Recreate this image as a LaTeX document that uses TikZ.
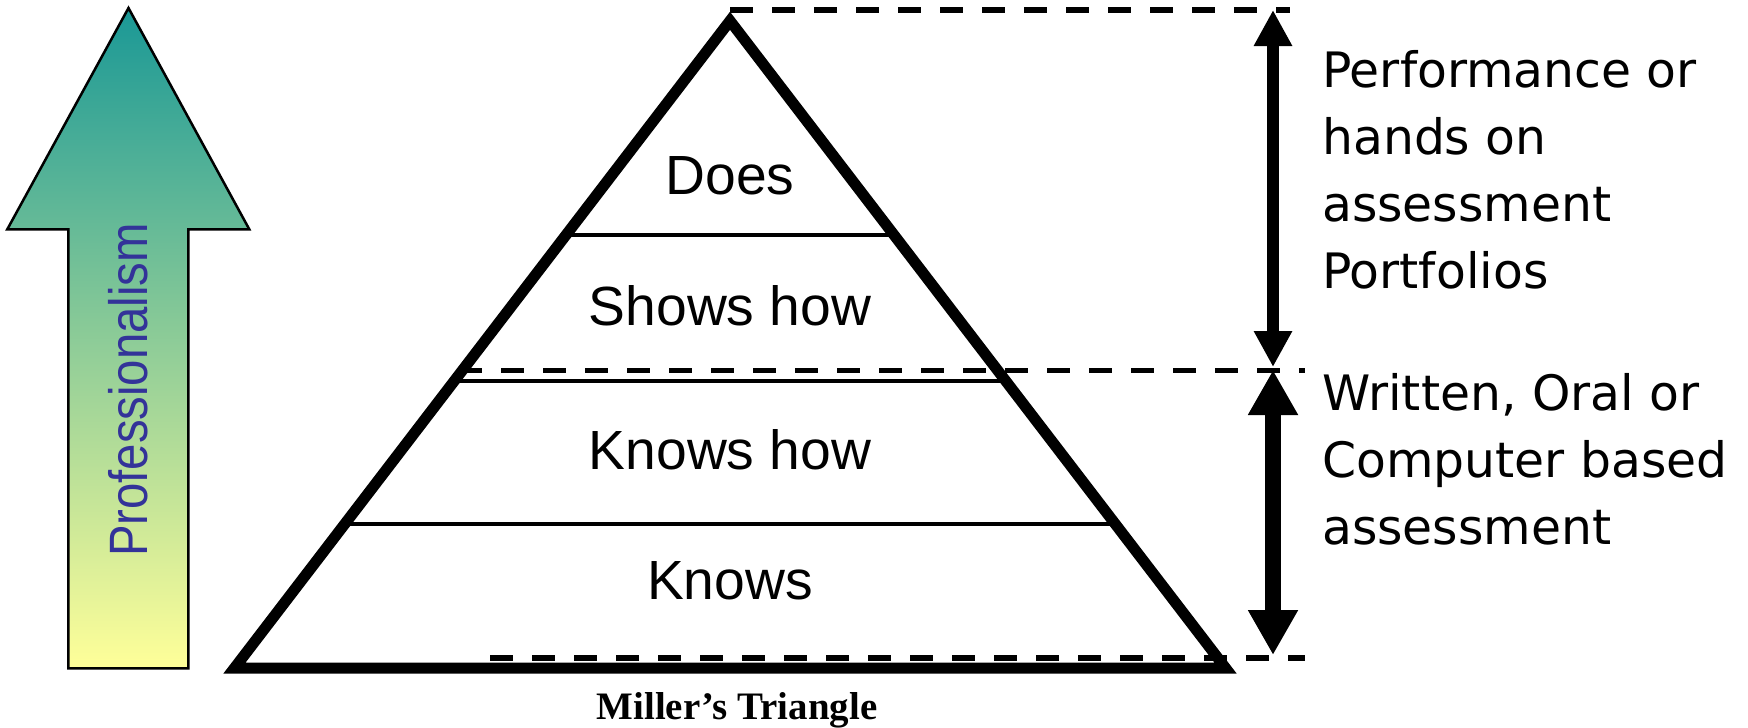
\documentclass[tikz,border=0pt]{standalone}
\usepackage{fontspec}
\setmainfont{Liberation Sans}
\newfontfamily\sideFont{DejaVu Sans}
\newfontfamily\capFont{Liberation Serif}
\usetikzlibrary{arrows.meta,calc}
\definecolor{proTeal}{RGB}{26,152,150}
\definecolor{proYellow}{RGB}{255,255,153}
\definecolor{proBlue}{RGB}{51,51,153}
\begin{document}
\begin{tikzpicture}[x=1pt,y=-1pt,
    triEdge/.style={line width=11pt,line join=miter},
    bandLine/.style={line width=4pt},
    levelDash/.style={line width=5.5pt,dash pattern=on 23pt off 19pt},
    spanUp/.style={{Triangle[width=36pt,length=36pt]}-{Triangle[width=36pt,length=36pt]},line width=12.5pt},
    spanLow/.style={{Triangle[width=47pt,length=45pt]}-{Triangle[width=47pt,length=45pt]},line width=16pt},
    levelLbl/.style={font=\fontsize{55.2}{60}\selectfont,inner sep=0pt,anchor=base},
    sideLbl/.style={font=\sideFont\fontsize{48.8}{66.8}\selectfont,align=left,inner sep=0pt,anchor=base west},
]
\useasboundingbox (0,0) rectangle (1748,728);
% Professionalism arrow
\draw[line width=2.5pt,line join=miter,top color=proTeal,bottom color=proYellow]
  (128.5,8) -- (249.3,229.3) -- (188.3,229.3) -- (188.3,668.3) -- (68.3,668.3) -- (68.3,229.3) -- (7.3,229.3) -- cycle;
\node[font=\fontsize{54}{60}\selectfont,text=proBlue,rotate=90,anchor=base,inner sep=0pt] (proLbl) at (147,390) {\scalebox{0.876}[1]{Professionalism}};
% Triangle and its levels
\coordinate (apex) at (730,20.8);
\coordinate (bl) at (234.5,668);
\coordinate (br) at (1225.5,668);
\draw[bandLine] ($(apex)!0.331!(bl)$) -- ($(apex)!0.331!(br)$);
\draw[bandLine] ($(apex)!0.5566!(bl)$) -- ($(apex)!0.5566!(br)$);
\draw[bandLine] ($(apex)!0.778!(bl)$) -- ($(apex)!0.778!(br)$);
\draw[triEdge] (apex) -- (bl) -- (br) -- cycle;
\node[levelLbl] (does) at (730,194) {Does};
\node[levelLbl] (showsHow) at (730,325.6) {Shows how};
\node[levelLbl] (knowsHow) at (730,469.5) {Knows how};
\node[levelLbl] (knows) at (730,599) {Knows};
% Dashed level marks
\coordinate (topL) at (730,10);
\coordinate (topE) at (1290,10);
\coordinate (midL) at (459,370.5);
\coordinate (midE) at (1305,370.5);
\coordinate (botL) at (490,658);
\coordinate (botE) at (1305,658);
\draw[levelDash] (topL) -- (topE);
\draw[levelDash] (midL) -- (midE);
\draw[levelDash] (botL) -- (botE);
% Span arrows
\coordinate (upA) at (1273,10);
\coordinate (upB) at (1273,367);
\coordinate (lowA) at (1273,370);
\coordinate (lowB) at (1273,655);
\draw[spanUp] (upA) -- (upB);
\draw[spanLow] (lowA) -- (lowB);
% Assessment texts
\node[sideLbl] (perfTxt) at (1322,288) {Performance or\\hands on\\assessment\\Portfolios};
\node[sideLbl] (writTxt) at (1322,544) {Written, Oral or\\Computer based\\assessment};
% Caption
\node[font=\capFont\bfseries\fontsize{38.9}{44}\selectfont,anchor=base,inner sep=0pt] (caption) at (737,719) {Miller’s Triangle};
\end{tikzpicture}
\end{document}
